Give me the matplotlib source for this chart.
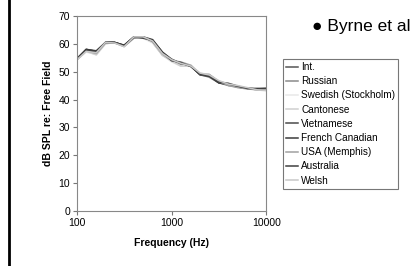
import matplotlib
matplotlib.use('Agg')
import matplotlib.pyplot as plt
from matplotlib.lines import Line2D

plt.rcParams['font.family'] = ['Liberation Sans', 'DejaVu Sans']

freqs = [100, 125, 160, 200, 250, 315, 400, 500, 630, 800, 1000,
         1250, 1600, 2000, 2500, 3150, 4000, 5000, 6300, 8000, 10000]

int_ltass = [54.5, 57.5, 57.0, 60.5, 60.5, 59.3, 62.3, 62.3, 61.0, 56.5, 54.0,
             53.0, 52.0, 49.0, 48.5, 46.3, 45.5, 44.7, 44.0, 43.7, 43.5]
russian = [54.5, 58.0, 57.3, 60.3, 60.3, 59.3, 62.5, 62.5, 60.5, 56.0, 54.0,
           52.5, 52.0, 49.0, 48.0, 46.0, 45.0, 44.5, 44.0, 43.5, 43.3]
swedish = [54.3, 57.0, 56.3, 60.0, 60.5, 59.0, 62.5, 62.0, 60.3, 56.0, 53.5,
           52.0, 52.3, 49.5, 49.0, 46.5, 45.8, 45.0, 44.0, 43.5, 43.0]
cantonese = [54.5, 57.3, 56.0, 60.0, 60.5, 59.3, 62.5, 62.3, 60.5, 55.8, 53.8,
             52.0, 52.0, 49.3, 49.0, 46.5, 45.3, 44.3, 44.0, 43.5, 43.5]
vietnamese = [54.8, 58.0, 57.5, 60.5, 60.5, 59.5, 62.5, 62.0, 61.3, 57.0, 54.0,
              53.3, 52.0, 48.8, 48.3, 46.0, 45.5, 44.5, 44.0, 44.0, 44.0]
french_can = [54.5, 58.0, 57.3, 60.5, 60.5, 59.5, 62.5, 62.5, 61.5, 57.0, 54.5,
              53.0, 52.0, 49.0, 48.5, 46.0, 45.3, 44.5, 44.0, 43.8, 43.5]
usa = [54.3, 57.5, 56.5, 60.3, 60.3, 59.0, 62.0, 62.5, 60.8, 56.3, 54.0,
       53.5, 52.3, 49.0, 49.0, 46.5, 45.0, 44.3, 43.8, 43.5, 43.5]
australia = [54.5, 57.8, 57.0, 60.5, 60.5, 59.3, 62.3, 62.3, 61.0, 56.8, 54.0,
             53.3, 51.8, 49.0, 48.5, 46.3, 45.8, 44.8, 44.0, 43.8, 44.0]
welsh = [54.3, 57.3, 56.8, 60.5, 60.3, 59.0, 62.5, 62.5, 61.0, 56.5, 54.3,
         53.0, 52.0, 49.5, 48.8, 46.8, 45.5, 45.0, 44.3, 43.5, 43.3]

labels = ['Int.', 'Russian', 'Swedish (Stockholm)', 'Cantonese', 'Vietnamese',
          'French Canadian', 'USA (Memphis)', 'Australia', 'Welsh']
series = [int_ltass, russian, swedish, cantonese, vietnamese,
          french_can, usa, australia, welsh]
colors = ['#555555', '#8a8a8a', '#e8e8e8', '#d0d0d0', '#4a4a4a',
          '#3a3a3a', '#a0a0a0', '#404040', '#c8c8c8']

fig = plt.figure(figsize=(4.14, 2.66), dpi=100)
fig.patch.set_facecolor('white')
ax = fig.add_axes([0.186, 0.207, 0.457, 0.733])

for vals, c, lab in zip(series, colors, labels):
    ax.plot(freqs, vals, color=c, lw=1.1, label=lab)

ax.set_xscale('log')
ax.set_xlim(100, 10000)
ax.set_ylim(0, 70)
ax.set_xticks([100, 1000, 10000])
ax.set_xticklabels(['100', '1000', '10000'])
ax.xaxis.set_minor_locator(matplotlib.ticker.NullLocator())
ax.set_yticks(range(0, 71, 10))
ax.tick_params(labelsize=7.5, length=3, width=0.8, color='#777777', pad=2)
for s in ax.spines.values():
    s.set_color('#888888')
    s.set_linewidth(0.8)
ax.set_xlabel('Frequency (Hz)', fontsize=7.5, fontweight='bold', labelpad=7)
ax.set_ylabel('dB SPL re: Free Field', fontsize=7.5, fontweight='bold', labelpad=4)

handles = [Line2D([0], [0], color=c, lw=1.1) for c in colors]
leg = fig.legend(handles, labels, loc='upper left',
                 bbox_to_anchor=(283 / 414, 1 - 59 / 266),
                 fontsize=7.2, frameon=True, fancybox=False,
                 handlelength=1.2, handletextpad=0.3, labelspacing=0.42,
                 borderpad=0.3, borderaxespad=0)
leg.get_frame().set_edgecolor('#555555')
leg.get_frame().set_linewidth(0.8)

fig.text(312 / 414, 1 - 27 / 266, '\u25cf Byrne et al', fontsize=12.5,
         va='center', ha='left', family=['Liberation Sans', 'DejaVu Sans'])

# left border bar
fig.add_artist(Line2D([9 / 414, 9 / 414], [0, 1], color='black', lw=2,
                      transform=fig.transFigure))

fig.savefig('out.png', dpi=100, facecolor='white')
